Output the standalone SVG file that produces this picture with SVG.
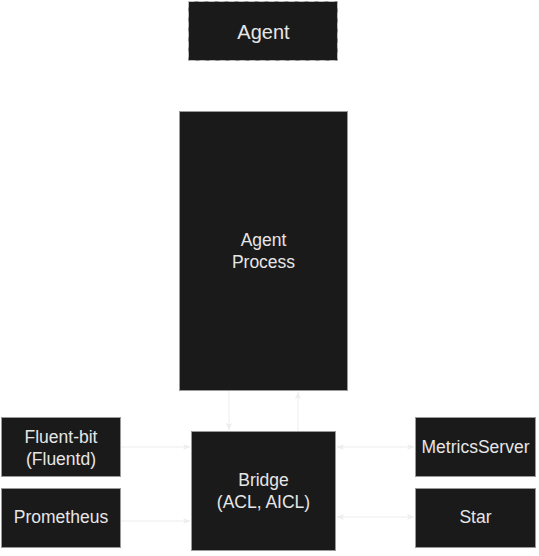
<svg xmlns="http://www.w3.org/2000/svg" width="539" height="556" viewBox="0 0 539 556">
<defs>
<style>
.box{fill:#1a1a1a;stroke:#999999;stroke-width:1}
.dash{stroke:#bdbdbd;stroke-dasharray:6 4}
.t{font-family:"Liberation Sans",Arial,sans-serif;font-size:17.5px;fill:#e6e6e6;text-anchor:middle;dominant-baseline:central}
.edge{stroke:#ededed;stroke-width:1;fill:none}
</style>
<marker id="ah" viewBox="0 0 10 10" refX="9" refY="5" markerWidth="8" markerHeight="8" markerUnits="userSpaceOnUse" orient="auto-start-reverse">
<path d="M0,1 L9,5 L0,9 L2.5,5 Z" fill="#ededed"/>
</marker>
</defs>
<rect width="539" height="556" fill="#ffffff"/>
<g id="connectors">
<line class="edge" x1="229" y1="391" x2="229" y2="430" marker-end="url(#ah)"/>
<line class="edge" x1="298" y1="431" x2="298" y2="392" marker-end="url(#ah)"/>
<line class="edge" x1="121" y1="447" x2="190" y2="447" marker-end="url(#ah)"/>
<line class="edge" x1="121" y1="521" x2="190" y2="521" marker-end="url(#ah)"/>
<line class="edge" x1="337" y1="447" x2="414" y2="447" marker-start="url(#ah)" marker-end="url(#ah)"/>
<line class="edge" x1="337" y1="517" x2="414" y2="517" marker-start="url(#ah)" marker-end="url(#ah)"/>
</g>
<g id="agent">
<rect class="box dash" x="188.5" y="1.5" width="149" height="59"/>
<text class="t" x="263.5" y="32" style="font-size:20px">Agent</text>
</g>
<g id="agent-process">
<rect class="box" x="179.5" y="111.5" width="168" height="279"/>
<text class="t" x="263.5" y="240">Agent</text>
<text class="t" x="263.5" y="262">Process</text>
</g>
<g id="bridge">
<rect class="box" x="191.5" y="431.5" width="144" height="119"/>
<text class="t" x="263.5" y="480">Bridge</text>
<text class="t" x="263.5" y="502">(ACL, AICL)</text>
</g>
<g id="fluent-bit">
<rect class="box" x="1.5" y="417.5" width="119" height="59"/>
<text class="t" x="61" y="437">Fluent-bit</text>
<text class="t" x="61" y="459">(Fluentd)</text>
</g>
<g id="prometheus">
<rect class="box" x="1.5" y="488.5" width="119" height="59"/>
<text class="t" x="61" y="517">Prometheus</text>
</g>
<g id="metrics-server">
<rect class="box" x="415.5" y="417.5" width="120" height="59"/>
<text class="t" x="475.5" y="447">MetricsServer</text>
</g>
<g id="star">
<rect class="box" x="415.5" y="488.5" width="120" height="59"/>
<text class="t" x="475.5" y="517">Star</text>
</g>
</svg>
